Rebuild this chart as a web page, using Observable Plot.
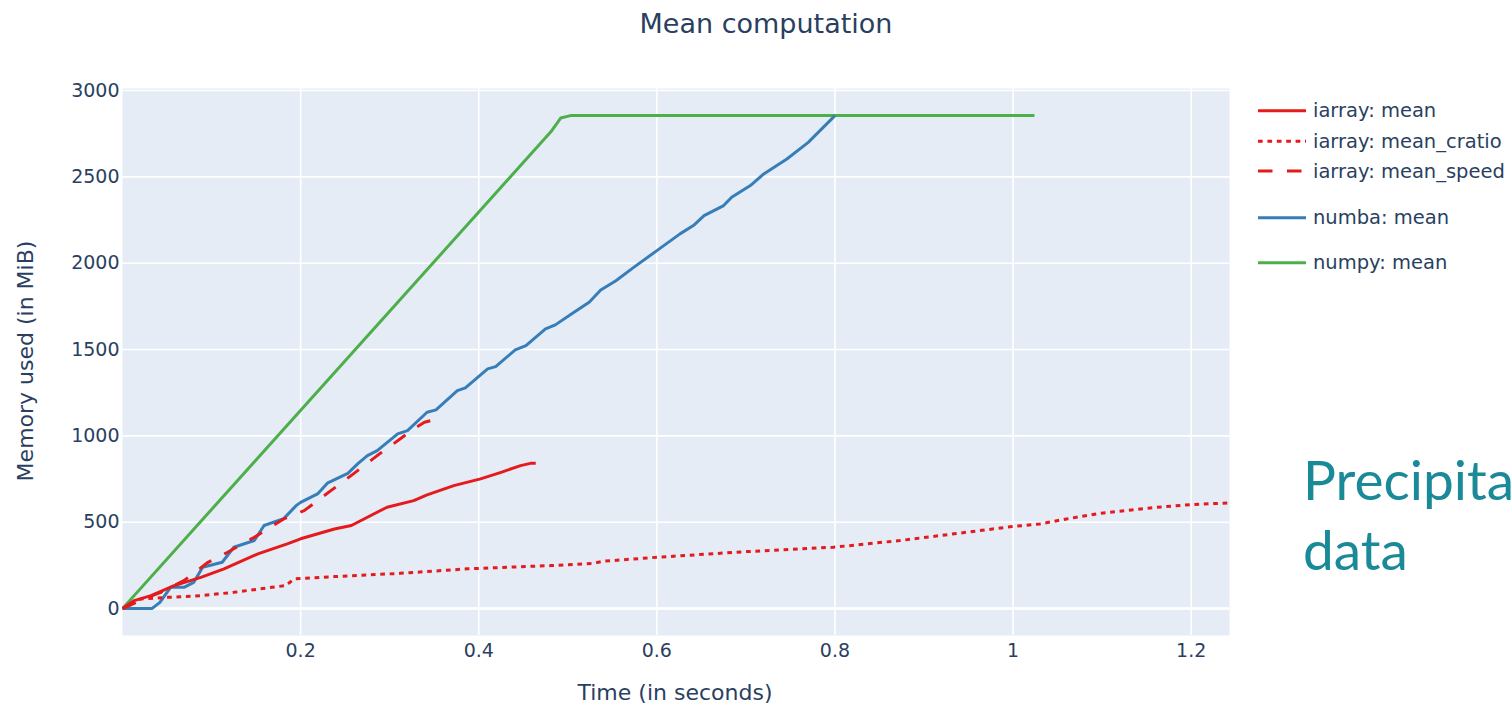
<!DOCTYPE html>
<html><head><meta charset="utf-8">
<script src="https://cdn.jsdelivr.net/npm/d3@7"></script>
<script src="https://cdn.jsdelivr.net/npm/@observablehq/plot@0.6"></script>
<style>
html,body{margin:0;padding:0;background:#fff;overflow:hidden;width:1512px;height:706px;}
#wrap{position:relative;width:1512px;height:706px;overflow:hidden;}
#wrap svg{display:block;}
#overlay{position:absolute;left:0;top:0;pointer-events:none;}
</style></head><body><div id="wrap"></div>
<script>
// ---- text ----
const chartTitle = "Mean computation";
const xLabel = "Time (in seconds)";
const yLabel = "Memory used (in MiB)";
const sideNote = ["Precipitation", "data"];

// ---- ticks ----
const xTicks = [0.2, 0.4, 0.6, 0.8, 1, 1.2];
const xTickLabels = ["0.2", "0.4", "0.6", "0.8", "1", "1.2"];
const yTicks = [0, 500, 1000, 1500, 2000, 2500, 3000];
const yTickLabels = ["0", "500", "1000", "1500", "2000", "2500", "3000"];

// ---- series ----
const seriesNames = ["iarray: mean", "iarray: mean_cratio", "iarray: mean_speed", "numba: mean", "numpy: mean"];

const iarrayMeanT   = [0, 0.013, 0.032, 0.058, 0.088, 0.114, 0.152, 0.185, 0.200, 0.238, 0.257, 0.297, 0.327, 0.342, 0.372, 0.402, 0.425, 0.447, 0.458, 0.464];
const iarrayMeanMem = [0, 46, 75, 133, 181, 230, 317, 375, 404, 461, 481, 587, 625, 658, 712, 751, 789, 828, 841, 841];

const iarrayCratioT   = [0, 0.0095, 0.021, 0.051, 0.088, 0.125, 0.163, 0.183, 0.193, 0.238, 0.312, 0.387, 0.402, 0.481, 0.529, 0.540, 0.600, 0.701, 0.761, 0.798, 0.873, 0.948, 0.999, 1.030, 1.060, 1.098, 1.154, 1.199, 1.243, 1.26];
const iarrayCratioMem = [0, 27, 56, 65, 75, 94, 120, 133, 172, 185, 204, 230, 233, 249, 262, 274, 297, 330, 346, 355, 394, 442, 475, 490, 519, 552, 583, 602, 612, 616];

const iarraySpeedT   = [0, 0.024, 0.043, 0.069, 0.096, 0.118, 0.148, 0.181, 0.204, 0.234, 0.260, 0.286, 0.312, 0.327, 0.339, 0.354];
const iarraySpeedMem = [0, 56, 94, 162, 268, 326, 413, 519, 567, 683, 783, 886, 983, 1041, 1079, 1098];

const numbaT   = [0, 0.033, 0.042, 0.054, 0.069, 0.080, 0.090, 0.112, 0.125, 0.148, 0.159, 0.181, 0.195, 0.200, 0.219, 0.230, 0.253, 0.264, 0.275, 0.286, 0.309, 0.320, 0.342, 0.352, 0.376, 0.385, 0.410, 0.419, 0.441, 0.453, 0.475, 0.486, 0.507, 0.524, 0.537, 0.554, 0.574, 0.600, 0.626, 0.641, 0.653, 0.675, 0.684, 0.705, 0.720, 0.746, 0.770, 0.800];
const numbaMem = [0, 0, 36, 123, 123, 152, 239, 268, 355, 394, 481, 521, 596, 615, 664, 726, 783, 838, 886, 915, 1012, 1031, 1137, 1151, 1262, 1278, 1388, 1401, 1498, 1523, 1620, 1643, 1716, 1774, 1845, 1899, 1976, 2073, 2170, 2218, 2276, 2334, 2382, 2450, 2517, 2604, 2700, 2855];

const numpyT   = [0, 0.481, 0.492, 0.503, 1.024];
const numpyMem = [0, 2761, 2841, 2855, 2855];

// ---- styles (separate from data) ----
const seriesStyle = {
  "iarray: mean":        {color: "#E41A1C", dash: null},
  "iarray: mean_cratio": {color: "#E41A1C", dash: "4.7,4.7"},
  "iarray: mean_speed":  {color: "#E41A1C", dash: "14.5,14.5"},
  "numba: mean":         {color: "#377EB8", dash: null},
  "numpy: mean":         {color: "#4DAF4A", dash: null}
};
const seriesT = [iarrayMeanT, iarrayCratioT, iarraySpeedT, numbaT, numpyT];
const seriesMem = [iarrayMeanMem, iarrayCratioMem, iarraySpeedMem, numbaMem, numpyMem];

const rows = seriesNames.map((name, k) => seriesT[k].map((t, i) => ({series: name, t, mem: seriesMem[k][i]})));

const W = 1512, H = 706;
const textColor = "#2a3f5f";
const font = "DejaVu Sans";
const lineW = 3;

const lineMarks = rows.map((data, k) => {
  const st = seriesStyle[seriesNames[k]];
  return Plot.line(data, {
    x: "t", y: "mem", stroke: st.color, strokeWidth: lineW,
    strokeDasharray: st.dash || undefined, strokeLinecap: "butt", strokeLinejoin: "round",
    clip: true
  });
});
// draw order: numpy, numba, then iarray on top
const ordered = [lineMarks[4], lineMarks[3], lineMarks[0], lineMarks[1], lineMarks[2]];

const chart = Plot.plot({
  width: W, height: H,
  marginLeft: 122, marginRight: W - 1229, marginTop: 88, marginBottom: H - 635,
  style: {fontFamily: font, fontSize: "19px", color: textColor, background: "transparent"},
  x: {domain: [0, 1.243]},
  y: {domain: [-156, 3012]},
  marks: [
    Plot.frame({fill: "#E5ECF6", stroke: "none"}),
    Plot.gridX(xTicks, {stroke: "#fff", strokeOpacity: 1, strokeWidth: 1.6}),
    Plot.gridY(yTicks, {stroke: "#fff", strokeOpacity: 1, strokeWidth: 1.6}),
    Plot.ruleY([0], {stroke: "#fff", strokeWidth: 2.6}),
    Plot.axisX(xTicks, {tickSize: 0, tickPadding: 8, label: null, fill: textColor,
      tickFormat: d => xTickLabels[xTicks.indexOf(d)]}),
    Plot.axisY(yTicks, {tickSize: 0, tickPadding: 3, label: null, fill: textColor,
      tickFormat: d => yTickLabels[yTicks.indexOf(d)]}),
    ...ordered
  ]
});
const wrap = document.getElementById("wrap");
wrap.appendChild(chart);

// ---- overlay: title, axis titles, legend, side note ----
const ov = d3.select(wrap).append("svg").attr("id", "overlay")
  .attr("width", W).attr("height", H).attr("viewBox", `0 0 ${W} ${H}`);

ov.append("text").text(chartTitle)
  .attr("x", 766).attr("y", 33).attr("text-anchor", "middle")
  .attr("font-family", font).attr("font-size", 27).attr("fill", textColor);

ov.append("text").text(xLabel)
  .attr("x", 675).attr("y", 692).attr("text-anchor", "middle").attr("dominant-baseline", "central")
  .attr("font-family", font).attr("font-size", 22).attr("fill", textColor);

ov.append("text").text(yLabel)
  .attr("transform", "translate(25,361) rotate(-90)").attr("text-anchor", "middle").attr("dominant-baseline", "central")
  .attr("font-family", font).attr("font-size", 22).attr("fill", textColor);

const legendY = [110.7, 141.3, 171, 217.7, 262.7];
const lg = ov.append("g");
seriesNames.forEach((name, k) => {
  const st = seriesStyle[name];
  lg.append("line").attr("x1", 1258).attr("x2", 1306).attr("y1", legendY[k]).attr("y2", legendY[k])
    .attr("stroke", st.color).attr("stroke-width", lineW)
    .attr("stroke-dasharray", st.dash || null);
  lg.append("text").text(name).attr("x", 1313).attr("y", legendY[k]).attr("dominant-baseline", "central")
    .attr("font-family", font).attr("font-size", 19.5).attr("fill", textColor);
});

const noteG = ov.append("g");
sideNote.forEach((line, i) => {
  noteG.append("text").text(line).attr("x", 1303).attr("y", 500 + i * 70)
    .attr("font-family", "Lato").attr("font-size", 55).attr("fill", "#1b8a98");
});
</script>
</body></html>
